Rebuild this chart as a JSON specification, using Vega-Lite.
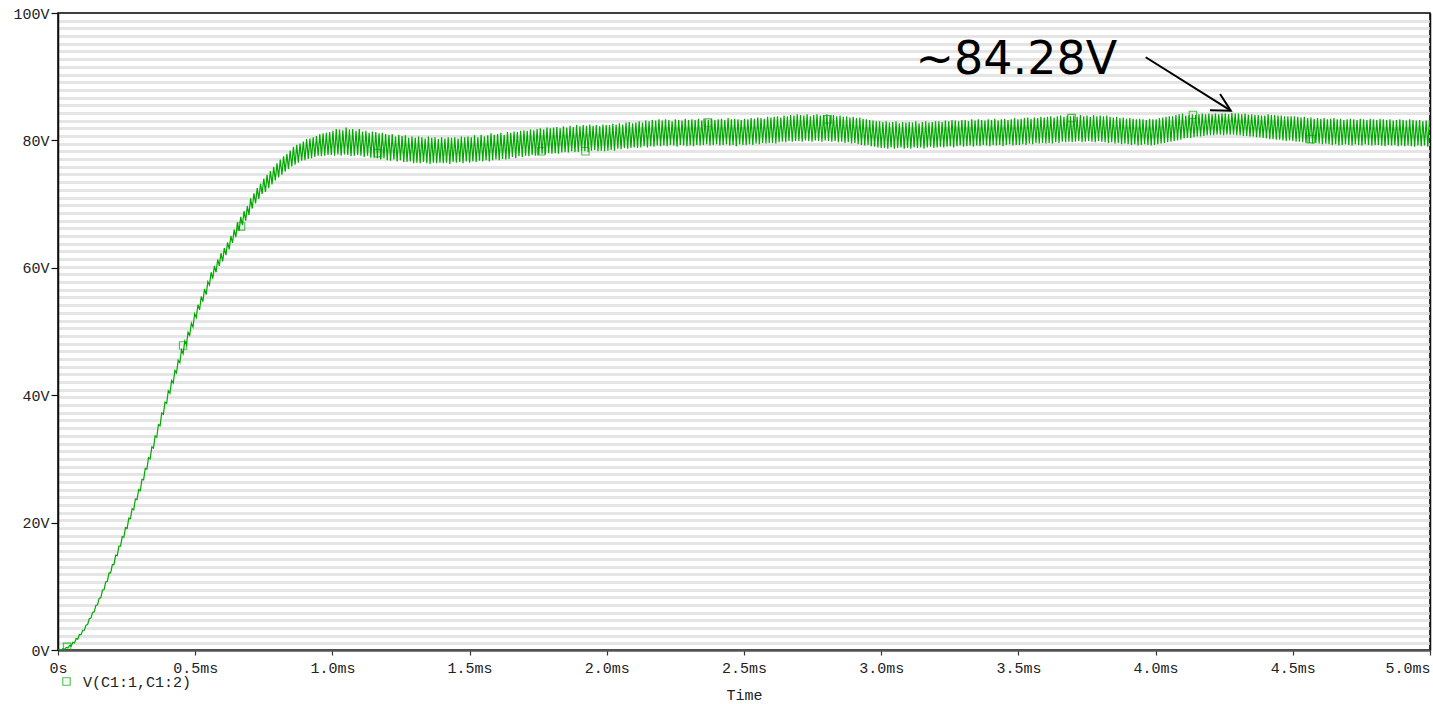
{
"$schema":"https://vega.github.io/schema/vega-lite/v6.json",
"width":1372,"height":637,
"autosize":{"type":"none"},
"padding":{"left":58,"top":13,"right":3,"bottom":54},
"background":"white",
"config":{"view":{"stroke":"black","strokeWidth":1.5}},
"datasets":{
"wave":[
{"t":0,"v":0},{"t":6,"v":0.1},{"t":12,"v":0.0},{"t":18,"v":0.2},{"t":24,"v":0.1},{"t":30,"v":0.4},{"t":36,"v":0.3},{"t":42,"v":0.7},{"t":48,"v":0.6},{"t":54,"v":1.2},{"t":60,"v":1.1},{"t":66,"v":1.8},{"t":72,"v":1.7},{"t":78,"v":2.4},{"t":84,"v":2.4},{"t":90,"v":3.1},{"t":96,"v":3.1},
{"t":102,"v":3.9},{"t":108,"v":4.0},{"t":114,"v":4.9},{"t":120,"v":5.0},{"t":126,"v":5.9},{"t":132,"v":6.0},{"t":138,"v":7.0},{"t":144,"v":7.1},{"t":150,"v":8.1},{"t":156,"v":8.2},{"t":162,"v":9.4},{"t":168,"v":9.5},{"t":174,"v":10.7},{"t":180,"v":10.8},{"t":186,"v":12.1},{"t":192,"v":12.1},{"t":198,"v":13.4},
{"t":204,"v":13.4},{"t":210,"v":14.9},{"t":216,"v":14.8},{"t":222,"v":16.3},{"t":228,"v":16.3},{"t":234,"v":17.8},{"t":240,"v":17.7},{"t":246,"v":19.2},{"t":252,"v":19.1},{"t":258,"v":20.7},{"t":264,"v":20.6},{"t":270,"v":22.2},{"t":276,"v":22.0},{"t":282,"v":23.7},{"t":288,"v":23.6},{"t":294,"v":25.2},{"t":300,"v":25.0},
{"t":306,"v":26.8},{"t":312,"v":26.7},{"t":318,"v":28.5},{"t":324,"v":28.4},{"t":330,"v":30.2},{"t":336,"v":30.0},{"t":342,"v":31.9},{"t":348,"v":31.7},{"t":354,"v":33.6},{"t":360,"v":33.4},{"t":366,"v":35.4},{"t":372,"v":35.2},{"t":378,"v":37.2},{"t":384,"v":37.0},{"t":390,"v":38.9},{"t":396,"v":38.7},
{"t":402,"v":40.7},{"t":408,"v":40.3},{"t":414,"v":42.3},{"t":420,"v":41.9},{"t":426,"v":43.9},{"t":432,"v":43.5},{"t":438,"v":45.5},{"t":444,"v":45.1},{"t":450,"v":47.1},{"t":456,"v":46.5},{"t":462,"v":48.5},{"t":468,"v":47.9},{"t":474,"v":49.9},{"t":480,"v":49.4},{"t":486,"v":51.3},{"t":492,"v":50.7},{"t":498,"v":52.8},
{"t":504,"v":52.2},{"t":510,"v":54.2},{"t":516,"v":53.4},{"t":522,"v":55.5},{"t":528,"v":54.7},{"t":534,"v":56.7},{"t":540,"v":55.8},{"t":546,"v":57.8},{"t":552,"v":57.3},{"t":558,"v":59.3},{"t":564,"v":58.3},{"t":570,"v":60.3},{"t":576,"v":59.3},{"t":582,"v":61.3},{"t":588,"v":60.3},{"t":594,"v":62.3},
{"t":600,"v":61.0},{"t":606,"v":63.1},{"t":612,"v":62.0},{"t":618,"v":64.0},{"t":624,"v":62.9},{"t":630,"v":65.0},{"t":636,"v":63.9},{"t":642,"v":66.0},{"t":648,"v":64.8},{"t":654,"v":67.1},{"t":660,"v":65.8},{"t":666,"v":68.0},{"t":672,"v":66.7},{"t":678,"v":68.9},{"t":684,"v":67.4},{"t":690,"v":69.7},{"t":696,"v":68.3},
{"t":702,"v":70.9},{"t":708,"v":69.3},{"t":714,"v":71.7},{"t":720,"v":70.1},{"t":726,"v":72.5},{"t":732,"v":70.8},{"t":738,"v":73.2},{"t":744,"v":71.6},{"t":750,"v":74.0},{"t":756,"v":71.9},{"t":762,"v":74.6},{"t":768,"v":72.5},{"t":774,"v":75.2},{"t":780,"v":73.1},{"t":786,"v":75.8},{"t":792,"v":73.7},{"t":798,"v":76.4},
{"t":804,"v":74.2},{"t":810,"v":77.0},{"t":816,"v":74.6},{"t":822,"v":77.5},{"t":828,"v":75.1},{"t":834,"v":77.9},{"t":840,"v":75.5},{"t":846,"v":78.4},{"t":852,"v":75.9},{"t":858,"v":79.0},{"t":864,"v":76.2},{"t":870,"v":79.3},{"t":876,"v":76.5},{"t":882,"v":79.5},{"t":888,"v":76.8},{"t":894,"v":79.8},
{"t":900,"v":76.9},{"t":906,"v":80.2},{"t":912,"v":77.1},{"t":918,"v":80.3},{"t":924,"v":77.2},{"t":930,"v":80.5},{"t":936,"v":77.4},{"t":942,"v":80.7},{"t":948,"v":77.6},{"t":954,"v":81.0},{"t":960,"v":77.5},{"t":966,"v":81.1},{"t":972,"v":77.6},{"t":978,"v":81.2},{"t":984,"v":77.7},{"t":990,"v":81.3},{"t":996,"v":77.7},
{"t":1002,"v":81.5},{"t":1008,"v":77.6},{"t":1014,"v":81.8},{"t":1020,"v":77.8},{"t":1026,"v":81.7},{"t":1032,"v":77.6},{"t":1038,"v":81.6},{"t":1044,"v":77.8},{"t":1050,"v":82.0},{"t":1056,"v":77.7},{"t":1062,"v":81.7},{"t":1068,"v":77.5},{"t":1074,"v":81.8},{"t":1080,"v":77.6},{"t":1086,"v":81.5},{"t":1092,"v":77.7},{"t":1098,"v":81.8},
{"t":1104,"v":77.6},{"t":1110,"v":81.4},{"t":1116,"v":77.4},{"t":1122,"v":81.5},{"t":1128,"v":77.6},{"t":1134,"v":81.2},{"t":1140,"v":77.3},{"t":1146,"v":81.4},{"t":1152,"v":77.3},{"t":1158,"v":81.3},{"t":1164,"v":77.2},{"t":1170,"v":81.1},{"t":1176,"v":77.0},{"t":1182,"v":81.2},{"t":1188,"v":77.2},{"t":1194,"v":81.0},{"t":1200,"v":76.9},
{"t":1206,"v":80.9},{"t":1212,"v":76.8},{"t":1218,"v":81.0},{"t":1224,"v":77.0},{"t":1230,"v":80.6},{"t":1236,"v":76.7},{"t":1242,"v":80.9},{"t":1248,"v":76.9},{"t":1254,"v":80.7},{"t":1260,"v":76.6},{"t":1266,"v":80.8},{"t":1272,"v":76.6},{"t":1278,"v":80.4},{"t":1284,"v":76.7},{"t":1290,"v":80.6},{"t":1296,"v":76.4},
{"t":1302,"v":80.4},{"t":1308,"v":76.5},{"t":1314,"v":80.6},{"t":1320,"v":76.4},{"t":1326,"v":80.5},{"t":1332,"v":76.6},{"t":1338,"v":80.3},{"t":1344,"v":76.4},{"t":1350,"v":80.6},{"t":1356,"v":76.3},{"t":1362,"v":80.4},{"t":1368,"v":76.5},{"t":1374,"v":80.5},{"t":1380,"v":76.4},{"t":1386,"v":80.2},{"t":1392,"v":76.5},{"t":1398,"v":80.5},
{"t":1404,"v":76.4},{"t":1410,"v":80.3},{"t":1416,"v":76.5},{"t":1422,"v":80.5},{"t":1428,"v":76.3},{"t":1434,"v":80.4},{"t":1440,"v":76.6},{"t":1446,"v":80.5},{"t":1452,"v":76.5},{"t":1458,"v":80.3},{"t":1464,"v":76.6},{"t":1470,"v":80.6},{"t":1476,"v":76.4},{"t":1482,"v":80.5},{"t":1488,"v":76.7},{"t":1494,"v":80.6},{"t":1500,"v":76.5},
{"t":1506,"v":80.5},{"t":1512,"v":76.7},{"t":1518,"v":80.8},{"t":1524,"v":76.6},{"t":1530,"v":80.5},{"t":1536,"v":76.8},{"t":1542,"v":80.9},{"t":1548,"v":76.7},{"t":1554,"v":80.6},{"t":1560,"v":76.9},{"t":1566,"v":80.8},{"t":1572,"v":76.7},{"t":1578,"v":81.1},{"t":1584,"v":76.9},{"t":1590,"v":80.9},{"t":1596,"v":77.0},
{"t":1602,"v":81.0},{"t":1608,"v":76.9},{"t":1614,"v":81.2},{"t":1620,"v":77.1},{"t":1626,"v":80.9},{"t":1632,"v":77.0},{"t":1638,"v":81.3},{"t":1644,"v":77.1},{"t":1650,"v":81.2},{"t":1656,"v":77.4},{"t":1662,"v":81.4},{"t":1668,"v":77.2},{"t":1674,"v":81.3},{"t":1680,"v":77.5},{"t":1686,"v":81.5},{"t":1692,"v":77.4},{"t":1698,"v":81.6},
{"t":1704,"v":77.6},{"t":1710,"v":81.5},{"t":1716,"v":77.5},{"t":1722,"v":81.7},{"t":1728,"v":77.7},{"t":1734,"v":81.6},{"t":1740,"v":77.6},{"t":1746,"v":81.8},{"t":1752,"v":77.7},{"t":1758,"v":81.9},{"t":1764,"v":77.9},{"t":1770,"v":81.7},{"t":1776,"v":77.8},{"t":1782,"v":82.0},{"t":1788,"v":78.0},{"t":1794,"v":81.9},{"t":1800,"v":77.9},
{"t":1806,"v":82.0},{"t":1812,"v":78.0},{"t":1818,"v":82.1},{"t":1824,"v":77.9},{"t":1830,"v":81.9},{"t":1836,"v":78.1},{"t":1842,"v":82.2},{"t":1848,"v":78.2},{"t":1854,"v":82.0},{"t":1860,"v":78.1},{"t":1866,"v":82.3},{"t":1872,"v":78.3},{"t":1878,"v":82.1},{"t":1884,"v":78.2},{"t":1890,"v":82.4},{"t":1896,"v":78.2},
{"t":1902,"v":82.2},{"t":1908,"v":78.4},{"t":1914,"v":82.4},{"t":1920,"v":78.3},{"t":1926,"v":82.3},{"t":1932,"v":78.2},{"t":1938,"v":82.5},{"t":1944,"v":78.4},{"t":1950,"v":82.3},{"t":1956,"v":78.5},{"t":1962,"v":82.4},{"t":1968,"v":78.3},{"t":1974,"v":82.2},{"t":1980,"v":78.4},{"t":1986,"v":82.5},{"t":1992,"v":78.3},{"t":1998,"v":82.4},
{"t":2004,"v":78.4},{"t":2010,"v":82.4},{"t":2016,"v":78.5},{"t":2022,"v":82.6},{"t":2028,"v":78.4},{"t":2034,"v":82.5},{"t":2040,"v":78.7},{"t":2046,"v":82.7},{"t":2052,"v":78.6},{"t":2058,"v":82.5},{"t":2064,"v":78.8},{"t":2070,"v":82.8},{"t":2076,"v":78.7},{"t":2082,"v":82.9},{"t":2088,"v":78.8},{"t":2094,"v":82.7},{"t":2100,"v":78.9},
{"t":2106,"v":82.8},{"t":2112,"v":78.8},{"t":2118,"v":83.0},{"t":2124,"v":78.9},{"t":2130,"v":82.8},{"t":2136,"v":79.1},{"t":2142,"v":83.1},{"t":2148,"v":78.9},{"t":2154,"v":83.0},{"t":2160,"v":79.1},{"t":2166,"v":83.2},{"t":2172,"v":79.0},{"t":2178,"v":83.1},{"t":2184,"v":79.2},{"t":2190,"v":83.3},{"t":2196,"v":79.1},
{"t":2202,"v":83.1},{"t":2208,"v":79.2},{"t":2214,"v":83.3},{"t":2220,"v":79.1},{"t":2226,"v":83.2},{"t":2232,"v":79.3},{"t":2238,"v":83.0},{"t":2244,"v":79.2},{"t":2250,"v":83.3},{"t":2256,"v":79.0},{"t":2262,"v":83.2},{"t":2268,"v":79.3},{"t":2274,"v":83.1},{"t":2280,"v":79.2},{"t":2286,"v":83.4},{"t":2292,"v":79.1},{"t":2298,"v":83.2},
{"t":2304,"v":79.2},{"t":2310,"v":83.3},{"t":2316,"v":79.1},{"t":2322,"v":83.2},{"t":2328,"v":79.3},{"t":2334,"v":83.4},{"t":2340,"v":79.2},{"t":2346,"v":83.1},{"t":2352,"v":79.3},{"t":2358,"v":83.3},{"t":2364,"v":79.4},{"t":2370,"v":83.2},{"t":2376,"v":79.2},{"t":2382,"v":83.4},{"t":2388,"v":79.3},{"t":2394,"v":83.2},{"t":2400,"v":79.4},
{"t":2406,"v":83.3},{"t":2412,"v":79.2},{"t":2418,"v":83.4},{"t":2424,"v":79.3},{"t":2430,"v":83.2},{"t":2436,"v":79.4},{"t":2442,"v":83.5},{"t":2448,"v":79.2},{"t":2454,"v":83.3},{"t":2460,"v":79.3},{"t":2466,"v":83.4},{"t":2472,"v":79.1},{"t":2478,"v":83.3},{"t":2484,"v":79.4},{"t":2490,"v":83.2},{"t":2496,"v":79.3},
{"t":2502,"v":83.4},{"t":2508,"v":79.3},{"t":2514,"v":83.3},{"t":2520,"v":79.4},{"t":2526,"v":83.5},{"t":2532,"v":79.3},{"t":2538,"v":83.4},{"t":2544,"v":79.5},{"t":2550,"v":83.6},{"t":2556,"v":79.4},{"t":2562,"v":83.5},{"t":2568,"v":79.6},{"t":2574,"v":83.4},{"t":2580,"v":79.5},{"t":2586,"v":83.7},{"t":2592,"v":79.6},{"t":2598,"v":83.6},
{"t":2604,"v":79.6},{"t":2610,"v":83.7},{"t":2616,"v":79.5},{"t":2622,"v":83.8},{"t":2628,"v":79.7},{"t":2634,"v":83.6},{"t":2640,"v":79.8},{"t":2646,"v":83.9},{"t":2652,"v":79.7},{"t":2658,"v":83.8},{"t":2664,"v":79.9},{"t":2670,"v":84.0},{"t":2676,"v":79.8},{"t":2682,"v":83.9},{"t":2688,"v":79.9},{"t":2694,"v":84.1},{"t":2700,"v":79.9},
{"t":2706,"v":84.0},{"t":2712,"v":79.8},{"t":2718,"v":83.9},{"t":2724,"v":80.0},{"t":2730,"v":84.1},{"t":2736,"v":79.9},{"t":2742,"v":83.8},{"t":2748,"v":79.8},{"t":2754,"v":84.0},{"t":2760,"v":80.0},{"t":2766,"v":84.1},{"t":2772,"v":79.9},{"t":2778,"v":83.9},{"t":2784,"v":79.8},{"t":2790,"v":84.0},{"t":2796,"v":80.0},
{"t":2802,"v":84.1},{"t":2808,"v":79.9},{"t":2814,"v":83.9},{"t":2820,"v":79.8},{"t":2826,"v":84.0},{"t":2832,"v":79.9},{"t":2838,"v":83.8},{"t":2844,"v":79.7},{"t":2850,"v":83.9},{"t":2856,"v":79.8},{"t":2862,"v":83.7},{"t":2868,"v":79.6},{"t":2874,"v":83.8},{"t":2880,"v":79.7},{"t":2886,"v":83.6},{"t":2892,"v":79.5},{"t":2898,"v":83.7},
{"t":2904,"v":79.6},{"t":2910,"v":83.5},{"t":2916,"v":79.4},{"t":2922,"v":83.6},{"t":2928,"v":79.3},{"t":2934,"v":83.4},{"t":2940,"v":79.2},{"t":2946,"v":83.3},{"t":2952,"v":79.3},{"t":2958,"v":83.2},{"t":2964,"v":79.1},{"t":2970,"v":83.1},{"t":2976,"v":79.0},{"t":2982,"v":83.0},{"t":2988,"v":78.9},{"t":2994,"v":83.0},{"t":3000,"v":78.8},
{"t":3006,"v":82.9},{"t":3012,"v":78.8},{"t":3018,"v":83.0},{"t":3024,"v":78.7},{"t":3030,"v":82.8},{"t":3036,"v":78.9},{"t":3042,"v":82.9},{"t":3048,"v":78.7},{"t":3054,"v":83.0},{"t":3060,"v":78.8},{"t":3066,"v":82.7},{"t":3072,"v":78.9},{"t":3078,"v":82.9},{"t":3084,"v":78.7},{"t":3090,"v":82.8},{"t":3096,"v":78.8},
{"t":3102,"v":82.9},{"t":3108,"v":78.7},{"t":3114,"v":82.8},{"t":3120,"v":78.9},{"t":3126,"v":83.0},{"t":3132,"v":78.8},{"t":3138,"v":82.7},{"t":3144,"v":78.9},{"t":3150,"v":82.9},{"t":3156,"v":78.7},{"t":3162,"v":83.0},{"t":3168,"v":78.9},{"t":3174,"v":82.8},{"t":3180,"v":79.0},{"t":3186,"v":82.9},{"t":3192,"v":78.8},{"t":3198,"v":83.0},
{"t":3204,"v":78.9},{"t":3210,"v":83.0},{"t":3216,"v":79.0},{"t":3222,"v":82.9},{"t":3228,"v":78.9},{"t":3234,"v":83.1},{"t":3240,"v":79.0},{"t":3246,"v":83.0},{"t":3252,"v":79.1},{"t":3258,"v":83.2},{"t":3264,"v":78.9},{"t":3270,"v":83.1},{"t":3276,"v":79.1},{"t":3282,"v":83.0},{"t":3288,"v":79.2},{"t":3294,"v":83.2},{"t":3300,"v":79.0},
{"t":3306,"v":83.2},{"t":3312,"v":79.1},{"t":3318,"v":83.0},{"t":3324,"v":79.2},{"t":3330,"v":83.3},{"t":3336,"v":79.0},{"t":3342,"v":83.1},{"t":3348,"v":79.2},{"t":3354,"v":83.3},{"t":3360,"v":79.1},{"t":3366,"v":83.2},{"t":3372,"v":79.3},{"t":3378,"v":83.1},{"t":3384,"v":79.2},{"t":3390,"v":83.3},{"t":3396,"v":79.1},
{"t":3402,"v":83.2},{"t":3408,"v":79.3},{"t":3414,"v":83.4},{"t":3420,"v":79.2},{"t":3426,"v":83.1},{"t":3432,"v":79.3},{"t":3438,"v":83.3},{"t":3444,"v":79.1},{"t":3450,"v":83.4},{"t":3456,"v":79.3},{"t":3462,"v":83.2},{"t":3468,"v":79.4},{"t":3474,"v":83.3},{"t":3480,"v":79.2},{"t":3486,"v":83.5},{"t":3492,"v":79.3},{"t":3498,"v":83.3},
{"t":3504,"v":79.3},{"t":3510,"v":83.4},{"t":3516,"v":79.4},{"t":3522,"v":83.5},{"t":3528,"v":79.3},{"t":3534,"v":83.6},{"t":3540,"v":79.5},{"t":3546,"v":83.4},{"t":3552,"v":79.4},{"t":3558,"v":83.6},{"t":3564,"v":79.6},{"t":3570,"v":83.5},{"t":3576,"v":79.5},{"t":3582,"v":83.7},{"t":3588,"v":79.6},{"t":3594,"v":83.6},{"t":3600,"v":79.5},
{"t":3606,"v":83.7},{"t":3612,"v":79.6},{"t":3618,"v":83.8},{"t":3624,"v":79.5},{"t":3630,"v":83.6},{"t":3636,"v":79.7},{"t":3642,"v":83.8},{"t":3648,"v":79.6},{"t":3654,"v":83.9},{"t":3660,"v":79.8},{"t":3666,"v":83.7},{"t":3672,"v":79.7},{"t":3678,"v":83.9},{"t":3684,"v":79.8},{"t":3690,"v":83.8},{"t":3696,"v":79.7},
{"t":3702,"v":83.9},{"t":3708,"v":79.8},{"t":3714,"v":83.7},{"t":3720,"v":79.9},{"t":3726,"v":84.0},{"t":3732,"v":79.7},{"t":3738,"v":83.8},{"t":3744,"v":79.8},{"t":3750,"v":83.9},{"t":3756,"v":79.9},{"t":3762,"v":83.7},{"t":3768,"v":79.8},{"t":3774,"v":84.0},{"t":3780,"v":79.7},{"t":3786,"v":83.8},{"t":3792,"v":79.9},{"t":3798,"v":83.9},
{"t":3804,"v":79.8},{"t":3810,"v":83.8},{"t":3816,"v":79.7},{"t":3822,"v":83.9},{"t":3828,"v":79.6},{"t":3834,"v":83.7},{"t":3840,"v":79.7},{"t":3846,"v":83.6},{"t":3852,"v":79.5},{"t":3858,"v":83.7},{"t":3864,"v":79.6},{"t":3870,"v":83.5},{"t":3876,"v":79.4},{"t":3882,"v":83.6},{"t":3888,"v":79.5},{"t":3894,"v":83.4},{"t":3900,"v":79.4},
{"t":3906,"v":83.5},{"t":3912,"v":79.3},{"t":3918,"v":83.4},{"t":3924,"v":79.4},{"t":3930,"v":83.3},{"t":3936,"v":79.2},{"t":3942,"v":83.4},{"t":3948,"v":79.3},{"t":3954,"v":83.3},{"t":3960,"v":79.4},{"t":3966,"v":83.2},{"t":3972,"v":79.3},{"t":3978,"v":83.4},{"t":3984,"v":79.2},{"t":3990,"v":83.3},{"t":3996,"v":79.3},
{"t":4002,"v":83.3},{"t":4008,"v":79.4},{"t":4014,"v":83.5},{"t":4020,"v":79.5},{"t":4026,"v":83.6},{"t":4032,"v":79.6},{"t":4038,"v":83.7},{"t":4044,"v":79.7},{"t":4050,"v":83.8},{"t":4056,"v":79.8},{"t":4062,"v":83.8},{"t":4068,"v":79.9},{"t":4074,"v":84.0},{"t":4080,"v":80.0},{"t":4086,"v":84.1},{"t":4092,"v":80.1},{"t":4098,"v":84.2},
{"t":4104,"v":80.3},{"t":4110,"v":83.9},{"t":4116,"v":80.4},{"t":4122,"v":84.0},{"t":4128,"v":80.4},{"t":4134,"v":84.1},{"t":4140,"v":80.5},{"t":4146,"v":84.0},{"t":4152,"v":80.6},{"t":4158,"v":84.1},{"t":4164,"v":80.6},{"t":4170,"v":84.2},{"t":4176,"v":80.7},{"t":4182,"v":84.1},{"t":4188,"v":80.8},{"t":4194,"v":84.2},{"t":4200,"v":80.8},
{"t":4206,"v":84.1},{"t":4212,"v":80.8},{"t":4218,"v":84.2},{"t":4224,"v":80.9},{"t":4230,"v":84.1},{"t":4236,"v":80.9},{"t":4242,"v":84.2},{"t":4248,"v":80.8},{"t":4254,"v":84.2},{"t":4260,"v":80.9},{"t":4266,"v":84.1},{"t":4272,"v":80.9},{"t":4278,"v":84.3},{"t":4284,"v":80.9},{"t":4290,"v":84.2},{"t":4296,"v":80.8},
{"t":4302,"v":84.2},{"t":4308,"v":80.8},{"t":4314,"v":84.1},{"t":4320,"v":80.7},{"t":4326,"v":84.2},{"t":4332,"v":80.7},{"t":4338,"v":84.0},{"t":4344,"v":80.6},{"t":4350,"v":84.1},{"t":4356,"v":80.6},{"t":4362,"v":84.0},{"t":4368,"v":80.5},{"t":4374,"v":84.0},{"t":4380,"v":80.5},{"t":4386,"v":83.9},{"t":4392,"v":80.4},{"t":4398,"v":83.9},
{"t":4404,"v":80.3},{"t":4410,"v":84.1},{"t":4416,"v":80.2},{"t":4422,"v":84.0},{"t":4428,"v":80.2},{"t":4434,"v":84.0},{"t":4440,"v":80.1},{"t":4446,"v":83.9},{"t":4452,"v":80.1},{"t":4458,"v":83.9},{"t":4464,"v":80.0},{"t":4470,"v":83.8},{"t":4476,"v":79.9},{"t":4482,"v":83.8},{"t":4488,"v":80.0},{"t":4494,"v":83.8},{"t":4500,"v":79.9},
{"t":4506,"v":83.8},{"t":4512,"v":79.8},{"t":4518,"v":83.7},{"t":4524,"v":79.8},{"t":4530,"v":83.6},{"t":4536,"v":79.7},{"t":4542,"v":83.7},{"t":4548,"v":79.6},{"t":4554,"v":83.5},{"t":4560,"v":79.6},{"t":4566,"v":83.6},{"t":4572,"v":79.5},{"t":4578,"v":83.4},{"t":4584,"v":79.6},{"t":4590,"v":83.5},{"t":4596,"v":79.5},
{"t":4602,"v":83.4},{"t":4608,"v":79.4},{"t":4614,"v":83.5},{"t":4620,"v":79.5},{"t":4626,"v":83.3},{"t":4632,"v":79.4},{"t":4638,"v":83.4},{"t":4644,"v":79.3},{"t":4650,"v":83.5},{"t":4656,"v":79.4},{"t":4662,"v":83.3},{"t":4668,"v":79.2},{"t":4674,"v":83.4},{"t":4680,"v":79.3},{"t":4686,"v":83.2},{"t":4692,"v":79.4},{"t":4698,"v":83.3},
{"t":4704,"v":79.3},{"t":4710,"v":83.4},{"t":4716,"v":79.2},{"t":4722,"v":83.3},{"t":4728,"v":79.4},{"t":4734,"v":83.2},{"t":4740,"v":79.3},{"t":4746,"v":83.4},{"t":4752,"v":79.2},{"t":4758,"v":83.3},{"t":4764,"v":79.4},{"t":4770,"v":83.2},{"t":4776,"v":79.3},{"t":4782,"v":83.4},{"t":4788,"v":79.2},{"t":4794,"v":83.3},{"t":4800,"v":79.3},
{"t":4806,"v":83.2},{"t":4812,"v":79.3},{"t":4818,"v":83.4},{"t":4824,"v":79.2},{"t":4830,"v":83.3},{"t":4836,"v":79.1},{"t":4842,"v":83.2},{"t":4848,"v":79.3},{"t":4854,"v":83.3},{"t":4860,"v":79.2},{"t":4866,"v":83.1},{"t":4872,"v":79.3},{"t":4878,"v":83.2},{"t":4884,"v":79.1},{"t":4890,"v":83.3},{"t":4896,"v":79.2},
{"t":4902,"v":83.2},{"t":4908,"v":79.1},{"t":4914,"v":83.1},{"t":4920,"v":79.2},{"t":4926,"v":83.3},{"t":4932,"v":79.1},{"t":4938,"v":83.2},{"t":4944,"v":79.0},{"t":4950,"v":83.1},{"t":4956,"v":79.2},{"t":4962,"v":83.2},{"t":4968,"v":79.1},{"t":4974,"v":83.0},{"t":4980,"v":79.2},{"t":4986,"v":83.1},{"t":4992,"v":79.0},{"t":4998,"v":83.2}
],
"markers":[
{"t":33,"v":0.5},{"t":456,"v":47.8},{"t":667,"v":66.5},{"t":1167,"v":78.0},{"t":1761,"v":78.3},{"t":1922,"v":78.3},{"t":2367,"v":82.8},{"t":2805,"v":83.3},{"t":3694,"v":83.5},{"t":4136,"v":84.0},{"t":4566,"v":80.2}
],
"arrow":[
{"seg":"shaft","o":1,"t":3964,"v":93.05},{"seg":"shaft","o":2,"t":4274,"v":84.66},
{"seg":"head","o":1,"t":4198,"v":84.75},{"seg":"head","o":2,"t":4274,"v":84.66},{"seg":"head","o":3,"t":4235,"v":87.28}
],
"note":[{"t":3125,"v":90.4,"label":"~84.28V"}]
},
"layer":[
{
"data":{"name":"wave"},
"mark":{"type":"line","color":"#00a800","strokeWidth":1.2,"clip":true},
"encoding":{
"x":{"field":"t","type":"quantitative","scale":{"domain":[0,5000],"nice":false,"zero":false},
"axis":{"values":[0,500,1000,1500,2000,2500,3000,3500,4000,4500,5000],"labelExpr":"datum.value == 0 ? '0s' : format(datum.value/1000, '.1f') + 'ms'","labelAlign":{"expr":"datum.value == 5000 ? 'right' : 'center'"},"title":"Time","titleFont":"Liberation Mono","titleFontSize":15,"titleFontWeight":"normal","titleColor":"#222","titlePadding":12,"labelFont":"Liberation Mono","labelFontSize":15,"labelColor":"#222","labelPadding":5,"tickSize":5,"tickColor":"#333","tickWidth":1.2,"domainColor":"#555","domainWidth":2.5,"grid":false,"labelFlush":false,"labelOverlap":false}},
"y":{"field":"v","type":"quantitative","scale":{"domain":[0,100],"nice":false,"zero":false},
"axis":{"values":[0,20,40,60,80,100],"labelExpr":"datum.value + 'V'","title":null,"labelFont":"Liberation Mono","labelFontSize":15,"labelColor":"#222","labelPadding":2,"tickSize":7,"tickColor":"#111","tickWidth":1.2,"domainColor":"#111","domainWidth":1.5,"grid":false,"orient":"left"}}
}
},
{
"data":{"name":"markers"},
"mark":{"type":"point","shape":"square","filled":false,"size":55,"strokeWidth":1.1,"clip":true},
"encoding":{
"x":{"field":"t","type":"quantitative"},
"y":{"field":"v","type":"quantitative","axis":{"orient":"right","values":[98.79,97.59,96.38,95.17,93.97,92.76,91.55,90.34,89.14,87.93,86.72,85.52,84.31,83.1,81.9,80.69,79.48,78.27,77.07,75.86,74.65,73.45,72.24,71.03,69.83,68.62,67.41,66.2,65,63.79,62.58,61.38,60.17,58.96,57.76,56.55,55.34,54.13,52.93,51.72,50.51,49.31,48.1,46.89,45.69,44.48,43.27,42.06,40.86,39.65,38.44,37.24,36.03,34.82,33.62,32.41,31.2,29.99,28.79,27.58,26.37,25.17,23.96,22.75,21.55,20.34,19.13,17.92,16.72,15.51,14.3,13.1,11.89,10.68,9.48,8.27,7.06,5.85,4.65,3.44,2.23,1.03],"grid":true,"gridColor":"#e5e5e5","gridWidth":3,"labels":false,"ticks":false,"domain":true,"domainColor":"#111","domainWidth":1.5,"title":null}},
"color":{"datum":"V(C1:1,C1:2)","scale":{"range":["#00a800"]},
"legend":{"title":null,"orient":"none","legendX":1,"legendY":661,"padding":0,"symbolType":"square","symbolSize":55,"symbolStrokeWidth":1.1,"symbolFillColor":"white","labelFont":"Liberation Mono","labelFontSize":15,"labelColor":"#222","labelOffset":9}}
}
},
{
"data":{"name":"arrow"},
"mark":{"type":"line","color":"black","strokeWidth":2},
"encoding":{
"x":{"field":"t","type":"quantitative"},
"y":{"field":"v","type":"quantitative","axis":null},
"detail":{"field":"seg"},
"order":{"field":"o"}
}
},
{
"data":{"name":"note"},
"mark":{"type":"text","font":"DejaVu Sans","fontSize":46,"align":"left","baseline":"alphabetic","color":"black"},
"encoding":{
"x":{"field":"t","type":"quantitative"},
"y":{"field":"v","type":"quantitative","axis":null},
"text":{"field":"label"}
}
}
],
"resolve":{"axis":{"y":"independent"}}
}
